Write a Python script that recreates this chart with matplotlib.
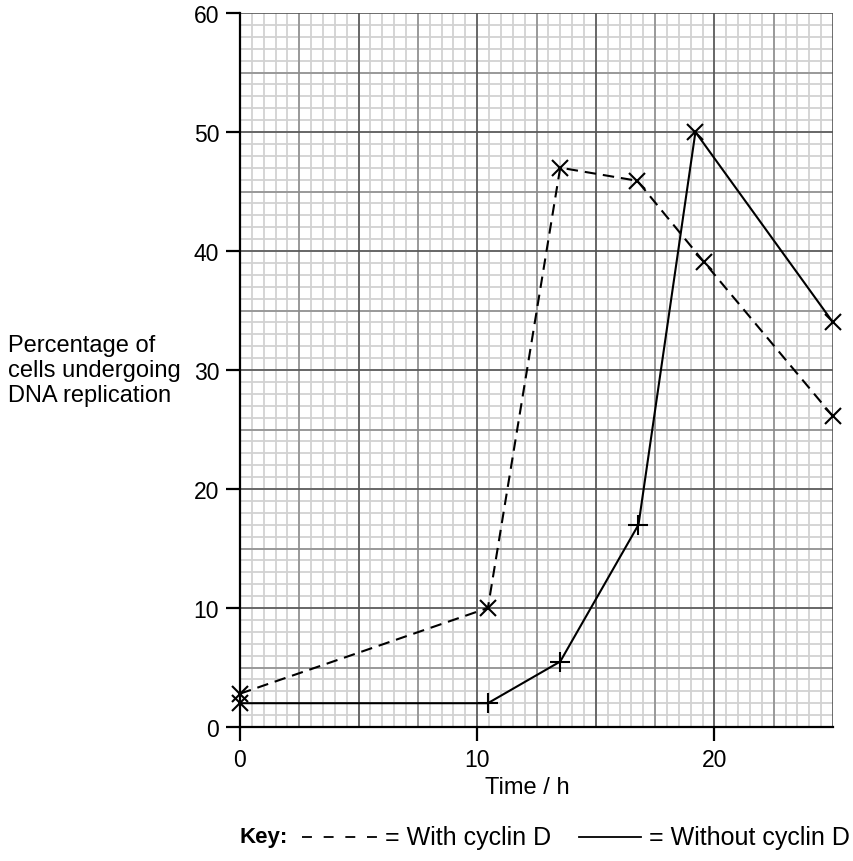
import matplotlib
matplotlib.use('Agg')
from matplotlib import pyplot as plt
from matplotlib.lines import Line2D
import numpy as np

plt.rcParams['font.family'] = ['Liberation Sans', 'DejaVu Sans']

# Data
time_with = [0, 10.45, 13.5, 16.75, 19.55, 25]
pct_with = [2.8, 10.0, 47.0, 45.9, 39.1, 26.1]

time_without = [0, 10.45, 13.5, 16.8, 19.2, 25]
pct_without = [2.0, 2.0, 5.5, 17.0, 50.0, 34.0]

x_ticks = [0, 10, 20]
y_ticks = [0, 10, 20, 30, 40, 50, 60]

fig = plt.figure(figsize=(8.54, 8.62), dpi=100)
ax = fig.add_axes([240 / 854, 134 / 862, 593 / 854, 714 / 862])
ax.set_xlim(0, 25)
ax.set_ylim(0, 60)

# graph paper: light minor squares, medium and heavy lines
for xv in np.arange(0.5, 25, 0.5):
    ax.axvline(xv, color='#d2d2d2', lw=1.3, zorder=0)
for yv in np.arange(1, 60, 1):
    ax.axhline(yv, color='#d2d2d2', lw=1.3, zorder=0)
for xv in np.arange(2.5, 25.1, 5):
    ax.axvline(xv, color='#8a8a8a', lw=1.1, zorder=0.5)
for yv in np.arange(5, 60, 10):
    ax.axhline(yv, color='#8a8a8a', lw=1.1, zorder=0.5)
for xv in np.arange(5, 25.1, 5):
    ax.axvline(xv, color='#555555', lw=1.2, zorder=0.6)
for yv in np.arange(10, 60.1, 10):
    ax.axhline(yv, color='#555555', lw=1.2, zorder=0.6)

for side in ['top', 'right']:
    ax.spines[side].set_visible(False)
for side in ['left', 'bottom']:
    ax.spines[side].set_linewidth(1.6)
    ax.spines[side].set_color('black')

ax.set_xticks(x_ticks)
ax.set_yticks(y_ticks)
ax.tick_params(direction='out', length=10, width=1.6, labelsize=16.5, pad=5)

# lines
ax.plot(time_with, pct_with, color='black', lw=1.5, dashes=(5.5, 3.3), zorder=3)
ax.plot(time_with, pct_with, ls='none', marker='x', ms=12, mew=1.5,
        color='black', zorder=4, clip_on=False)

ax.plot(time_without, pct_without, color='black', lw=1.5, zorder=3)
solid_markers = ['x', '+', '+', '+', 'x', 'x']
for tx, py, mk in zip(time_without, pct_without, solid_markers):
    ax.plot(tx, py, ls='none', marker=mk, ms=14 if mk == '+' else 12,
            mew=1.5, color='black', zorder=4, clip_on=False)

fig.text(527 / 854, 1 - 788 / 862, 'Time / h', fontsize=17,
         ha='center', va='center')
fig.text(8 / 854, 1 - 371 / 862,
         'Percentage of\ncells undergoing\nDNA replication',
         fontsize=17, ha='left', va='center', linespacing=1.2)

# key
ky = 1 - 838 / 862
fig.text(240 / 854, ky, 'Key:', fontsize=16, fontweight='bold',
         ha='left', va='center')
fig.add_artist(Line2D([302 / 854, 378 / 854], [ky, ky], color='black',
                      lw=1.3, dashes=(5.5, 6.5)))
fig.text(385 / 854, ky, '= With cyclin D', fontsize=18, ha='left', va='center')
fig.add_artist(Line2D([579 / 854, 641 / 854], [ky, ky], color='black', lw=1.3))
fig.text(649 / 854, ky, '= Without cyclin D', fontsize=18,
         ha='left', va='center')

fig.savefig('out.png', dpi=100)
